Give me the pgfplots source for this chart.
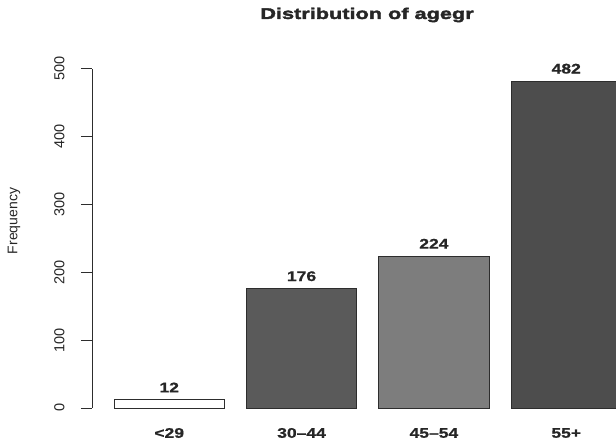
\documentclass[border=0pt]{standalone}
\usepackage{fontspec}
\setmainfont{Liberation Sans}
\newfontfamily\wide{Liberation Sans}[FakeStretch=1.25, BoldFeatures={FakeBold=0.8}]
\newfontfamily\titlefont{Liberation Sans}[FakeStretch=1.4, BoldFeatures={FakeBold=2.5}]
\usepackage{pgfplots}
\pgfplotsset{compat=1.18}

\definecolor{barA}{RGB}{255,255,255}
\definecolor{barB}{RGB}{90,90,90}
\definecolor{barC}{RGB}{125,125,125}
\definecolor{barD}{RGB}{77,77,77}
\definecolor{edge}{RGB}{45,45,45}

\begin{document}
\begin{tikzpicture}
\useasboundingbox (0,0) rectangle (616pt,443pt);
\clip (0,0) rectangle (616pt,443pt);

% title and y label, placed like R does (outer margins)
\node[font=\titlefont\bfseries\fontsize{15.5}{18}\selectfont, text=black!85] at (367pt,428pt) {Distribution of agegr};
\node[rotate=90, font=\fontsize{14}{16}\selectfont, text=black!85] at (14pt,222pt) {Frequency};

\begin{axis}[
  at={(92pt,22pt)}, anchor=south west,
  width=549.7pt, height=353pt,
  scale only axis,
  xmin=0, xmax=4.984,
  ymin=-19.28, ymax=501.28,
  axis x line=none,
  axis y line*=left,
  y axis line style={draw=none},
  ytick={0,100,200,300,400,500},
  ytick pos=left,
  tick align=outside,
  major tick length=11pt,
  ytick style={draw=edge, line width=0.8pt},
  /pgf/number format/assume math mode=true,
  yticklabel style={rotate=90, anchor=south, text=black!85, font=\fontsize{14.5}{16}\selectfont},
  yticklabel shift=13pt,
  ybar, bar width=1, bar shift=0pt,
  nodes near coords,
  every node near coord/.append style={font=\wide\bfseries\fontsize{14}{16}\selectfont, anchor=south, inner sep=0pt, yshift=7pt, text=black!85},
  clip=false,
]
\addplot[fill=barA, draw=edge, line width=0.8pt] coordinates {(0.7,12)};
\addplot[fill=barB, draw=edge, line width=0.8pt] coordinates {(1.9,176)};
\addplot[fill=barC, draw=edge, line width=0.8pt] coordinates {(3.1,224)};
\addplot[fill=barD, draw=edge, line width=0.8pt] coordinates {(4.3,482)};
\draw[edge, line width=0.8pt] (axis cs:0,0) -- (axis cs:0,500);
% category names under the bars
\node[font=\wide\bfseries\fontsize{14}{16}\selectfont, text=black!85] at (axis cs:0.7,-37) {<29};
\node[font=\wide\bfseries\fontsize{14}{16}\selectfont, text=black!85] at (axis cs:1.9,-37) {30–44};
\node[font=\wide\bfseries\fontsize{14}{16}\selectfont, text=black!85] at (axis cs:3.1,-37) {45–54};
\node[font=\wide\bfseries\fontsize{14}{16}\selectfont, text=black!85] at (axis cs:4.3,-37) {55+};
\end{axis}
\end{tikzpicture}
\end{document}
